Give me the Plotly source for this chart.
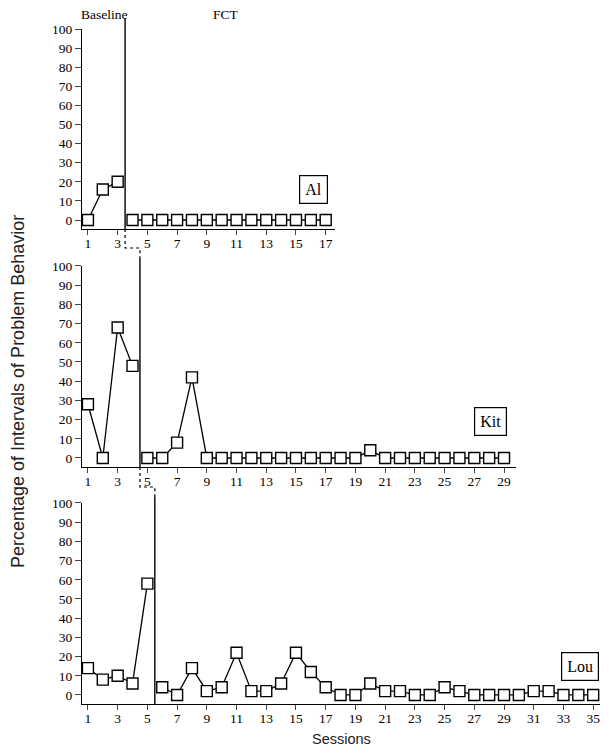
import plotly.graph_objects as go

# percentage of intervals with problem behavior, per session
al_baseline = [0, 16, 20]
al_fct = [0, 0, 0, 0, 0, 0, 0, 0, 0, 0, 0, 0, 0, 0]

kit_baseline = [28, 0, 68, 48]
kit_fct = [0, 0, 8, 42, 0, 0, 0, 0, 0, 0, 0, 0, 0, 0, 0, 4, 0, 0, 0, 0, 0, 0, 0, 0, 0]

lou_baseline = [14, 8, 10, 6, 58]
lou_fct = [4, 0, 14, 2, 4, 22, 2, 2, 6, 22, 12, 4, 0, 0, 6, 2, 2, 0, 0, 4,
           2, 0, 0, 0, 0, 2, 2, 0, 0, 0]

participants = ["Al", "Kit", "Lou"]
y_ticks = [0, 10, 20, 30, 40, 50, 60, 70, 80, 90, 100]

# the page body adds an 8px margin, so the figure is made smaller by that
OFF = 8
W, H = 609 - OFF, 753 - OFF
ML, MR, MT, MB = 82 - OFF, 0, 29 - OFF, 49
PW = W - ML - MR
PH = H - MT - MB
PX = 14.86      # pixels per session, same for all panels
X0 = 0.6        # left end of every x axis


def xp(s):
    return (s - X0) * PX / PW


def px(refx):
    return (refx - 82) / PW


def yp(refy):
    return (704 - refy) / PH


SERIF = "Liberation Serif"
SANS = "Liberation Sans"

panels = [
    (al_baseline, al_fct, 17.6, [0.7037, 1.0]),
    (kit_baseline, kit_fct, 29.8, [0.3511, 0.6489]),
    (lou_baseline, lou_fct, 35.45, [0.0, 0.2978]),
]

fig = go.Figure()
layout = {}
for i, (base, fct, xmax, ydom) in enumerate(panels, start=1):
    n_base = len(base)
    n_all = n_base + len(fct)
    sfx = "" if i == 1 else str(i)
    for xs, ys in ((list(range(1, n_base + 1)), base),
                   (list(range(n_base + 1, n_all + 1)), fct)):
        fig.add_trace(go.Scatter(
            x=xs, y=ys, mode="lines+markers", xaxis="x" + sfx, yaxis="y" + sfx,
            line=dict(color="black", width=1.3),
            marker=dict(symbol="square", size=11, color="white",
                        line=dict(color="black", width=1.4)),
            showlegend=False, cliponaxis=False,
        ))
    layout["xaxis" + sfx] = dict(
        domain=[0, xp(xmax)], range=[X0, xmax], anchor="y" + sfx,
        tickvals=list(range(1, n_all + 1, 2)), ticks="outside", ticklen=5,
        tickwidth=1.2, showline=True, linecolor="black", linewidth=1.3,
        showgrid=False, zeroline=False, ticklabelstandoff=-3,
        tickfont=dict(family=SERIF, size=13.5, color="black"),
    )
    layout["yaxis" + sfx] = dict(
        domain=ydom, range=[-4.7, 100], anchor="x" + sfx,
        tickvals=y_ticks, ticks="outside", ticklen=6, tickwidth=1.2,
        showline=True, linecolor="black", linewidth=1.3,
        showgrid=False, zeroline=False,
        tickfont=dict(family=SERIF, size=13.5, color="black"),
    )

# phase change lines and the dashed steps between panels
solid = dict(color="black", width=1.4)
dashed = dict(color="black", width=1.2, dash="dot")
shapes = [
    dict(type="line", xref="paper", yref="paper", x0=xp(3.5), x1=xp(3.5),
         y0=yp(229), y1=yp(19), line=solid),
    dict(type="path", xref="paper", yref="paper", line=dashed,
         path=f"M{xp(3.5)},{yp(229)} L{xp(3.5)},{yp(248)} L{xp(4.5)},{yp(248)} L{xp(4.5)},{yp(258)}"),
    dict(type="line", xref="paper", yref="paper", x0=xp(4.5), x1=xp(4.5),
         y0=yp(467), y1=yp(258), line=solid),
    dict(type="path", xref="paper", yref="paper", line=dashed,
         path=f"M{xp(4.5)},{yp(467)} L{xp(4.5)},{yp(487)} L{xp(5.5)},{yp(487)} L{xp(5.5)},{yp(497)}"),
    dict(type="line", xref="paper", yref="paper", x0=xp(5.5), x1=xp(5.5),
         y0=yp(704), y1=yp(497), line=solid),
]

center = dict(xref="paper", yref="paper", xanchor="center", yanchor="middle",
              showarrow=False)
annotations = [
    dict(text="Baseline", x=px(104), y=yp(14),
         font=dict(family=SERIF, size=13.5, color="black"), **center),
    dict(text="FCT", x=px(226), y=yp(14),
         font=dict(family=SERIF, size=13.5, color="black"), **center),
    dict(text="Percentage of Intervals of Problem Behavior", textangle=-90,
         x=px(18), y=yp(392),
         font=dict(family=SANS, size=18, color="#222"), **center),
    dict(text="Sessions", x=px(341), y=yp(739),
         font=dict(family=SANS, size=14.5, color="#222"), **center),
]
name_boxes = [(313, 190), (490, 421), (580, 666)]
for name, (bx, by) in zip(participants, name_boxes):
    annotations.append(dict(
        text=name, x=px(bx), y=yp(by),
        bordercolor="black", borderwidth=1.2, borderpad=5,
        bgcolor="white", font=dict(family=SERIF, size=16, color="black"),
        **center,
    ))

fig.update_layout(
    width=W, height=H,
    margin=dict(l=ML, r=MR, t=MT, b=MB),
    plot_bgcolor="white", paper_bgcolor="white",
    shapes=shapes, annotations=annotations,
    **layout,
)

fig.write_html("out.html")
